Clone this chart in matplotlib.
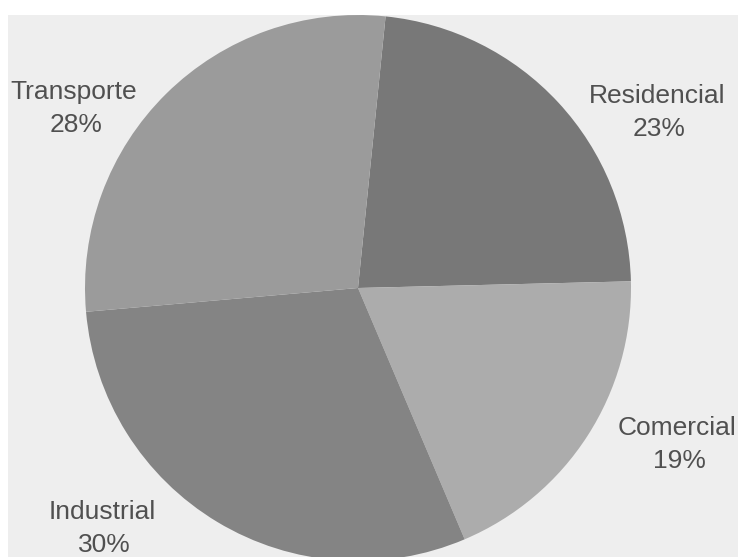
import matplotlib
matplotlib.use("Agg")
import matplotlib.pyplot as plt
from matplotlib.patches import Rectangle

# Energy consumption by sector
sectors = ["Residencial", "Comercial", "Industrial", "Transporte"]
shares = [23, 19, 30, 28]
slice_colors = ["#787878", "#acacac", "#848484", "#9b9b9b"]

W, H = 743, 557
fig = plt.figure(figsize=(W / 100, H / 100), dpi=100)
fig.patch.set_facecolor("white")

# pixel-based axes, y pointing up
ax = fig.add_axes([0, 0, 1, 1])
ax.set_axis_off()

# page area behind the chart
ax.add_patch(Rectangle((8, 0), 730, H - 15, facecolor="#eeeeee",
                       edgecolor="none", zorder=0))

cx, cy, r = 358, H - 288, 273
wedges, _ = ax.pie(shares, colors=slice_colors, startangle=84.2,
                   counterclock=False, center=(cx, cy), radius=r,
                   wedgeprops=dict(linewidth=0, antialiased=True))
for w in wedges:
    w.set_zorder(1)

ax.set_xlim(0, W)
ax.set_ylim(0, H)
ax.set_aspect("equal", adjustable="box")

# label positions (centre x, baseline y of first line, in pixels from top)
label_pos = {
    "Residencial": (657, 103),
    "Comercial": (677, 435),
    "Industrial": (102, 519),
    "Transporte": (74, 99),
}
line_gap = 33
txt_kw = dict(ha="center", va="baseline", fontsize=19, color="#505050",
              family=["Liberation Sans", "DejaVu Sans"], zorder=3)
for name, val in zip(sectors, shares):
    x, y = label_pos[name]
    ax.text(x, H - y, name, **txt_kw)
    ax.text(x + 2, H - (y + line_gap), f"{val}%", **txt_kw)

fig.savefig("out.png", dpi=100, facecolor=fig.get_facecolor())
